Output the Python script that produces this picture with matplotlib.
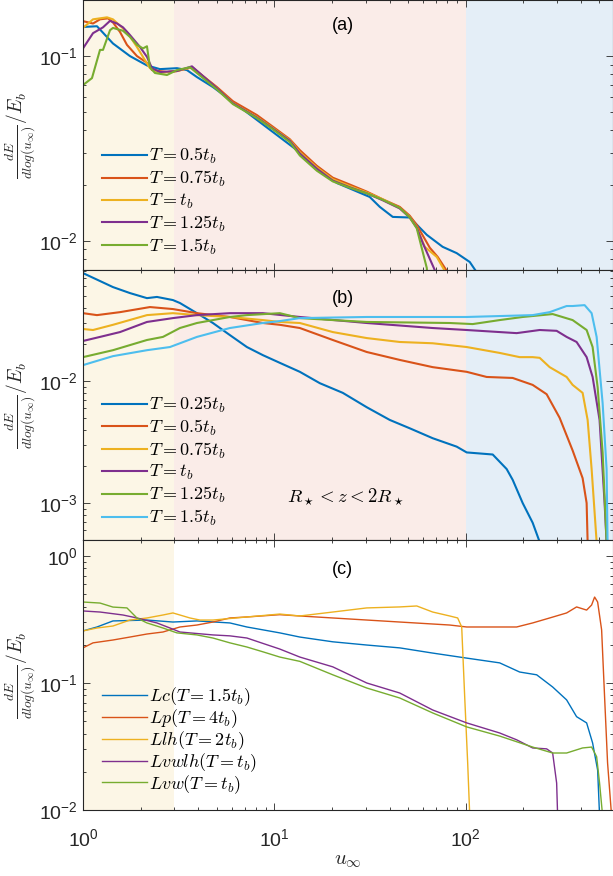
import numpy as np
import matplotlib
matplotlib.use('Agg')
import matplotlib.pyplot as plt
from matplotlib.font_manager import FontProperties
from matplotlib.ticker import LogLocator, NullFormatter

plt.rcParams['font.family'] = 'Liberation Sans'

# MATLAB default colour order
c_blue, c_red, c_yel, c_pur, c_grn, c_cyan = '#0072BD', '#D95319', '#EDB120', '#7E2F8E', '#77AC30', '#4DBEEE'
bg_yel, bg_pink, bg_blue = '#fcf6e6', '#faece8', '#e4eef7'

# ---------------- panel (a) ----------------
a_labels = [r'$T=0.5t_b$', r'$T=0.75t_b$', r'$T=t_b$', r'$T=1.25t_b$', r'$T=1.5t_b$']

a05_x = [1.0, 1.183, 1.434, 1.759, 2.159, 2.524, 3.097, 3.492, 3.939, 4.774, 6.603, 13.11, 21.21, 31.52,
         35.55, 41.57, 51.0, 62.6, 75.8, 89.7, 105, 112.8, 118]
a05_y = [0.1436, 0.145, 0.117, 0.100, 0.089, 0.085, 0.086, 0.084, 0.077, 0.068, 0.053, 0.031, 0.0206, 0.0173,
         0.0153, 0.0135, 0.0134, 0.0108, 0.0093, 0.0086, 0.0077, 0.0069, 0.0062]

a075_x = [1.0, 1.128, 1.227, 1.351, 1.434, 1.561, 1.697, 1.914, 2.159, 2.293, 2.746, 3.097, 3.709, 5.009,
          6.072, 8.1, 9.82, 12.05, 13.59, 16.67, 20.2, 24.79, 30.4, 36.87, 45.2, 51.0, 55.5, 64.9, 71.4, 79.6, 82]
a075_y = [0.1545, 0.150, 0.158, 0.160, 0.152, 0.135, 0.115, 0.100, 0.092, 0.084, 0.082, 0.083, 0.087, 0.068,
          0.057, 0.048, 0.0415, 0.0355, 0.031, 0.0255, 0.022, 0.0202, 0.0185, 0.0168, 0.0153, 0.0137, 0.0122,
          0.0092, 0.0082, 0.0069, 0.0062]

a1_x = [1.0, 1.128, 1.335, 1.434, 1.697, 1.914, 2.108, 2.238, 2.524, 3.097, 3.709, 5.009, 6.072, 8.1, 9.82,
        12.05, 13.59, 16.67, 20.2, 24.79, 30.4, 36.87, 45.2, 51.0, 55.5, 61.1, 70.6, 77.7, 79.6]
a1_y = [0.142, 0.158, 0.162, 0.158, 0.135, 0.112, 0.095, 0.086, 0.081, 0.083, 0.087, 0.067, 0.0557, 0.0468,
        0.0408, 0.0351, 0.0302, 0.0250, 0.0216, 0.0198, 0.0183, 0.0168, 0.0151, 0.0135, 0.0119, 0.0093,
        0.0082, 0.0069, 0.0062]

a125_x = [1.0, 1.128, 1.272, 1.384, 1.505, 1.618, 1.759, 1.985, 2.159, 2.293, 2.524, 3.097, 3.709, 5.009,
          6.072, 8.1, 9.82, 12.05, 13.59, 16.67, 20.2, 24.79, 30.4, 36.87, 45.2, 51.0, 55.5, 59.65, 68.9, 70.6]
a125_y = [0.11, 0.133, 0.143, 0.155, 0.15, 0.143, 0.13, 0.112, 0.099, 0.086, 0.082, 0.083, 0.088, 0.067,
          0.0555, 0.0465, 0.0405, 0.0348, 0.0297, 0.0246, 0.0212, 0.0195, 0.0181, 0.0166, 0.0150, 0.0134,
          0.0118, 0.00975, 0.00697, 0.0062]

a15_x = [1.0, 1.114, 1.227, 1.272, 1.384, 1.434, 1.618, 1.759, 1.914, 2.058, 2.159, 2.238, 2.377, 2.746,
         3.097, 3.621, 5.009, 6.072, 8.1, 9.82, 12.05, 13.59, 16.67, 20.2, 24.79, 30.4, 36.87, 45.2, 51.0,
         55.5, 62.6, 63.3]
a15_y = [0.0697, 0.076, 0.108, 0.108, 0.138, 0.142, 0.137, 0.127, 0.115, 0.110, 0.113, 0.087, 0.081, 0.079,
         0.084, 0.087, 0.066, 0.055, 0.0462, 0.0402, 0.0343, 0.0290, 0.0240, 0.0210, 0.0194, 0.0181, 0.0167,
         0.0151, 0.0134, 0.0117, 0.00715, 0.0062]

# ---------------- panel (b) ----------------
b_labels = [r'$T=0.25t_b$', r'$T=0.5t_b$', r'$T=0.75t_b$', r'$T=t_b$', r'$T=1.25t_b$', r'$T=1.5t_b$']

b025_x = [1.0, 1.434, 1.759, 2.159, 2.434, 2.951, 3.21, 3.939, 4.774, 5.857, 7.186, 8.71, 10.68, 13.59,
          17.29, 22.79, 30.4, 40.1, 51.0, 67.2, 89.7, 101.2, 138.4, 163.7, 176, 198.5, 223.8, 243.5]
b025_y = [0.0767, 0.0589, 0.0526, 0.0478, 0.0489, 0.0461, 0.0436, 0.036, 0.0299, 0.0238, 0.019, 0.0163,
          0.0141, 0.0119, 0.0096, 0.0080, 0.0061, 0.0048, 0.0041, 0.0034, 0.0029, 0.0026, 0.0025, 0.0019,
          0.00155, 0.0010, 0.00069, 0.00048]

b05_x = [1.0, 1.183, 1.561, 2.238, 2.951, 3.939, 5.857, 8.71, 10.68, 13.59, 20.2, 30.4, 45.2, 67.2, 101.2,
         128.7, 176, 223.8, 264.8, 309.6, 362, 408.3, 428.5, 433.7]
b05_y = [0.036, 0.0347, 0.0367, 0.0404, 0.0389, 0.036, 0.0335, 0.0299, 0.0289, 0.0272, 0.0217, 0.0173,
         0.0149, 0.013, 0.0119, 0.0108, 0.0106, 0.0093, 0.0078, 0.0050, 0.0027, 0.0016, 0.0010, 0.00048]

b075_x = [1.0, 1.128, 1.434, 2.159, 2.951, 3.939, 5.857, 8.71, 10.68, 13.59, 20.2, 30.4, 45.2, 67.2, 101.2,
          150.5, 191.4, 223.8, 243.5, 274.6, 336.8, 362, 408.3, 433.7, 455, 483.3]
b075_y = [0.0267, 0.0262, 0.0289, 0.0347, 0.036, 0.0347, 0.0335, 0.0316, 0.0305, 0.0299, 0.0252, 0.0225,
          0.0209, 0.0204, 0.019, 0.017, 0.0157, 0.0157, 0.0155, 0.013, 0.0108, 0.0093, 0.0080, 0.0048,
          0.0019, 0.00048]

b1_x = [1.0, 1.227, 1.561, 2.159, 2.951, 3.939, 5.857, 8.71, 13.59, 30.4, 67.2, 101.2, 184.6, 243.5,
        298.7, 336.8, 379.7, 428.5, 460.5, 500.7, 531.9, 544.8]
b1_y = [0.0213, 0.023, 0.0252, 0.0305, 0.0328, 0.0347, 0.036, 0.036, 0.0335, 0.0299, 0.0272, 0.0262,
        0.0247, 0.0262, 0.0258, 0.023, 0.0209, 0.0157, 0.0108, 0.0048, 0.0010, 0.00048]

b125_x = [1.0, 1.434, 2.159, 2.617, 3.21, 3.939, 4.774, 5.857, 7.186, 10.68, 13.59, 20.2, 30.4, 82.5,
          108.8, 150.5, 198.5, 284.7, 362, 428.5, 460.5, 489.2, 519.4, 544.8]
b125_y = [0.0157, 0.0179, 0.0217, 0.023, 0.0272, 0.0299, 0.0316, 0.0335, 0.0347, 0.036, 0.0328, 0.0316,
          0.0305, 0.0299, 0.0293, 0.0316, 0.0335, 0.0354, 0.0316, 0.0262, 0.019, 0.0089, 0.0026, 0.00048]

b15_x = [1.0, 1.128, 1.434, 2.159, 2.847, 3.939, 5.857, 8.71, 10.68, 13.59, 30.4, 101.2, 223.8, 274.6,
         336.8, 362, 418.2, 455, 483.3, 519.4, 544.8, 551.3]
b15_y = [0.0135, 0.0143, 0.016, 0.0179, 0.019, 0.023, 0.0272, 0.0299, 0.031, 0.0328, 0.0335, 0.0335,
         0.0347, 0.0367, 0.0412, 0.0412, 0.0419, 0.036, 0.023, 0.0066, 0.0019, 0.00048]

# ---------------- panel (c) ----------------
c_labels = [r'$Lc(T=1.5t_b)$', r'$Lp(T=4t_b)$', r'$Llh(T=2t_b)$', r'$Lvwlh(T=t_b)$', r'$Lvw(T=t_b)$']

lc_x = [1.0, 1.183, 1.434, 2.159, 2.951, 3.939, 5.857, 7.186, 10.68, 13.59, 20.2, 30.4, 45.2, 67.2, 101.2,
        150.5, 191.4, 234.9, 284.7, 336.8, 379.7, 428.5, 460.5, 489.2, 500.7]
lc_y = [0.257, 0.276, 0.308, 0.313, 0.302, 0.308, 0.297, 0.276, 0.248, 0.23, 0.211, 0.199, 0.189, 0.172,
        0.157, 0.144, 0.122, 0.116, 0.093, 0.0736, 0.0543, 0.0485, 0.0337, 0.0206, 0.009]

lp_x = [1.0, 1.128, 1.434, 1.759, 2.159, 2.617, 3.21, 3.939, 4.774, 5.857, 7.186, 10.68, 13.59, 20.2, 45.2,
        82.5, 101.2, 150.5, 184.6, 223.8, 274.6, 336.8, 379.7, 428.5, 455, 471.7, 489.2, 513.2, 531.9, 551.3,
        578.6]
lp_y = [0.189, 0.207, 0.218, 0.23, 0.243, 0.252, 0.276, 0.286, 0.302, 0.325, 0.331, 0.345, 0.337, 0.325,
        0.302, 0.286, 0.276, 0.276, 0.276, 0.297, 0.325, 0.356, 0.397, 0.375, 0.411, 0.475, 0.434, 0.262,
        0.0776, 0.0235, 0.009]

llh_x = [1.0, 1.183, 1.434, 1.759, 2.159, 2.617, 2.951, 3.21, 3.621, 4.083, 4.774, 7.186, 10.68, 13.59,
         20.2, 30.4, 45.2, 55.5, 67.2, 82.5, 90.8, 95.3, 98.8, 102.4, 105]
llh_y = [0.257, 0.271, 0.281, 0.313, 0.325, 0.343, 0.356, 0.343, 0.325, 0.313, 0.313, 0.331, 0.349, 0.337,
         0.362, 0.39, 0.397, 0.404, 0.362, 0.337, 0.325, 0.276, 0.0776, 0.0235, 0.009]

lvwlh_x = [1.0, 1.227, 1.618, 1.914, 2.434, 2.847, 3.21, 4.774, 5.857, 7.186, 8.71, 10.68, 13.59, 20.2,
           30.4, 45.2, 67.2, 101.2, 150.5, 184.6, 223.8, 264.8, 284.7, 298.7, 302.3]
lvwlh_y = [0.369, 0.362, 0.343, 0.325, 0.297, 0.271, 0.252, 0.239, 0.235, 0.226, 0.205, 0.185, 0.16, 0.134,
           0.1, 0.0834, 0.0613, 0.0485, 0.0404, 0.0357, 0.0308, 0.0303, 0.0281, 0.0163, 0.009]

lvw_x = [1.0, 1.227, 1.434, 1.697, 1.914, 2.159, 2.617, 3.097, 3.939, 4.774, 5.857, 7.186, 8.71, 10.68,
         13.59, 20.2, 30.4, 45.2, 67.2, 101.2, 150.5, 223.8, 284.7, 336.8, 408.3, 455, 483.3, 500.7, 519.4]
lvw_y = [0.434, 0.426, 0.396, 0.39, 0.325, 0.297, 0.271, 0.248, 0.239, 0.226, 0.207, 0.192, 0.176, 0.16,
         0.148, 0.116, 0.0913, 0.0762, 0.0581, 0.0451, 0.0382, 0.0313, 0.0281, 0.0281, 0.0308, 0.0313, 0.0263,
         0.0163, 0.009]

x_lim = (1, 585)

fig = plt.figure(figsize=(6.13, 8.76), dpi=100)
L, W, H = 83 / 613, 529.5 / 613, 270 / 876
ax_a = fig.add_axes([L, 606 / 876, W, H])
ax_b = fig.add_axes([L, 336 / 876, W, H])
ax_c = fig.add_axes([L, 66 / 876, W, H])

leg_prop = FontProperties(family='DejaVu Serif', size=13, math_fontfamily='cm')
ylab = r'$\frac{dE}{dlog(u_\infty)}/E_b$'


def style(ax, ylim, bands):
    ax.set_xscale('log')
    ax.set_yscale('log')
    ax.set_xlim(*x_lim)
    ax.set_ylim(*ylim)
    for lo, hi, col in bands:
        ax.axvspan(lo, hi, color=col, lw=0, zorder=0)
    ax.tick_params(which='both', direction='in', top=True, right=True, colors='#262626',
                   labelsize=14, width=0.6)
    ax.tick_params(which='major', length=5)
    ax.tick_params(which='minor', length=2.5)
    ax.tick_params(axis='x', pad=13)
    ax.xaxis.set_minor_locator(LogLocator(base=10, subs=np.arange(2, 10)))
    ax.yaxis.set_minor_locator(LogLocator(base=10, subs=np.arange(2, 10)))
    ax.xaxis.set_minor_formatter(NullFormatter())
    ax.yaxis.set_minor_formatter(NullFormatter())
    for s in ax.spines.values():
        s.set_color('#262626')
        s.set_linewidth(0.8)
    ax.set_ylabel(ylab, fontsize=14, math_fontfamily='cm', color='#262626', labelpad=2)


def add_legend(ax, handles, labels, yc, spacing=0.15):
    ax.legend(handles, labels, loc='center left', bbox_to_anchor=(0.036, yc), frameon=False,
              prop=leg_prop, borderpad=0, borderaxespad=0, handlelength=2.5, handletextpad=0.1,
              labelspacing=spacing)


three_bands = [(1, 3, bg_yel), (3, 100, bg_pink), (100, 1000, bg_blue)]

# (a)
style(ax_a, (0.00697, 0.201), three_bands)
h_a = []
for xs, ys, col in [(a05_x, a05_y, c_blue), (a075_x, a075_y, c_red), (a1_x, a1_y, c_yel),
                    (a125_x, a125_y, c_pur), (a15_x, a15_y, c_grn)]:
    h_a += ax_a.plot(xs, ys, color=col, lw=1.5)
add_legend(ax_a, h_a, a_labels, 0.254)
ax_a.text(0.49, 0.904, '(a)', transform=ax_a.transAxes, ha='center', va='center', fontsize=13)
ax_a.tick_params(labelbottom=False)

# (b)
style(ax_b, (4.98e-4, 0.0813), three_bands)
h_b = []
for xs, ys, col in [(b025_x, b025_y, c_blue), (b05_x, b05_y, c_red), (b075_x, b075_y, c_yel),
                    (b1_x, b1_y, c_pur), (b125_x, b125_y, c_grn), (b15_x, b15_y, c_cyan)]:
    h_b += ax_b.plot(xs, ys, color=col, lw=1.5)
add_legend(ax_b, h_b, b_labels, 0.291)
ax_b.text(0.49, 0.896, '(b)', transform=ax_b.transAxes, ha='center', va='center', fontsize=13)
ax_b.text(0.496, 0.159, r'$R_\star < z < 2R_\star$', transform=ax_b.transAxes, ha='center', va='center',
          fontsize=13.5, math_fontfamily='cm')
ax_b.tick_params(labelbottom=False)

# (c)
style(ax_c, (0.01, 1.336), [(1, 3, bg_yel)])
h_c = []
for xs, ys, col in [(lc_x, lc_y, c_blue), (lp_x, lp_y, c_red), (llh_x, llh_y, c_yel),
                    (lvwlh_x, lvwlh_y, c_pur), (lvw_x, lvw_y, c_grn)]:
    h_c += ax_c.plot(xs, ys, color=col, lw=1.0)
add_legend(ax_c, h_c, c_labels, 0.257, spacing=-0.05)
ax_c.text(0.49, 0.889, '(c)', transform=ax_c.transAxes, ha='center', va='center', fontsize=13)
ax_c.set_xlabel(r'$u_\infty$', fontsize=15, math_fontfamily='cm', color='#262626', labelpad=1)

fig.savefig('out.png', dpi=100)
